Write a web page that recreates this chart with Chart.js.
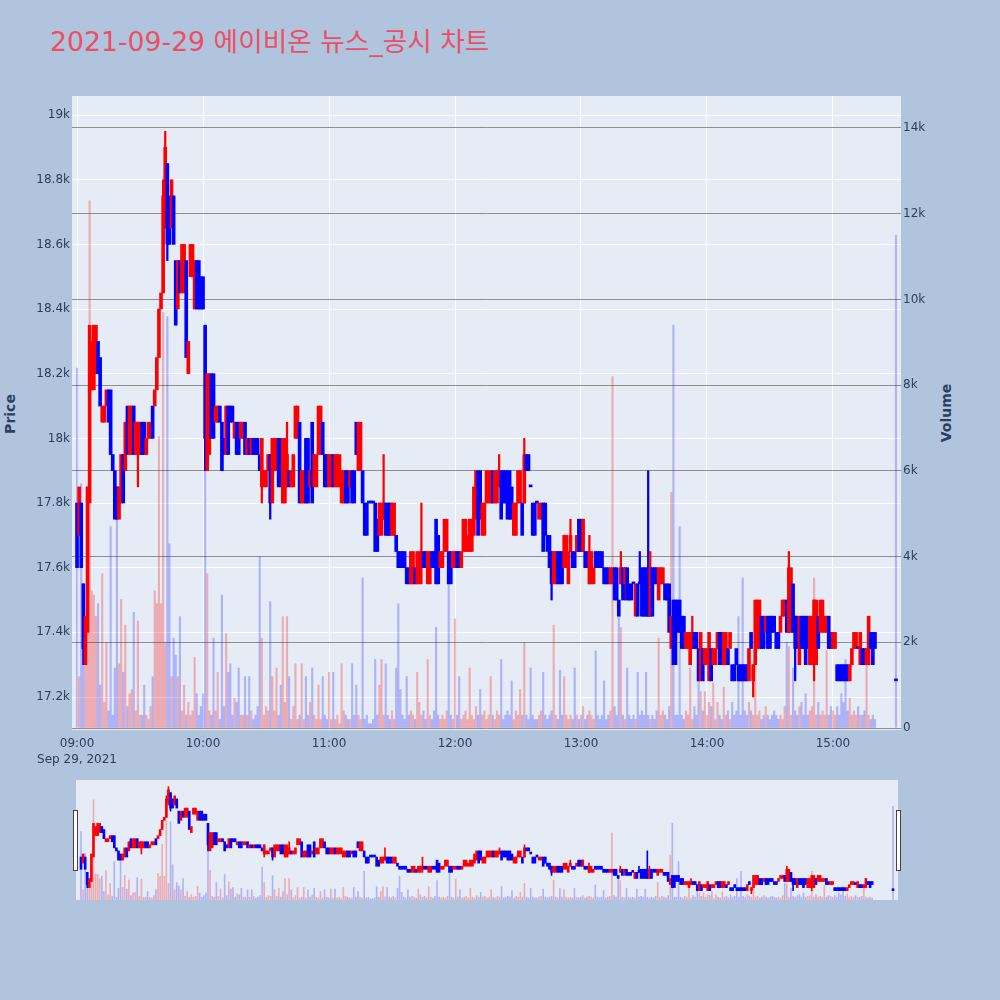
<!DOCTYPE html>
<html>
<head>
<meta charset="utf-8">
<script src="https://cdn.jsdelivr.net/npm/chart.js@4.4.0/dist/chart.umd.min.js"></script>
<style>
  body { margin: 0; width: 1000px; height: 1000px; background: #b0c4de; position: relative; overflow: hidden; font-family: "DejaVu Sans", "Noto Sans CJK KR", sans-serif; }
  #title { position: absolute; left: 50px; top: 28px; font-size: 26.7px; line-height: 27px; color: #ec4f64; white-space: nowrap; }
  .axis-title { position: absolute; font-size: 14px; font-weight: bold; color: #2a3f5f; transform: translate(-50%, -50%) rotate(-90deg); white-space: nowrap; }
  #main { position: absolute; left: 0; top: 0; width: 1000px; height: 775px; }
  #slider { position: absolute; left: 0; top: 775px; width: 1000px; height: 130px; }
  .handle { position: absolute; top: 810px; width: 3px; height: 59px; background: #fff; border: 1px solid #444; }
</style>
</head>
<body>
<div id="title">2021-09-29 에이비온 뉴스_공시 차트</div>
<div class="axis-title" style="left:10px; top:414px;">Price</div>
<div class="axis-title" style="left:946px; top:413px;">Volume</div>
<canvas id="main" width="1000" height="775"></canvas>
<canvas id="slider" width="1000" height="130"></canvas>
<div class="handle" style="left:73px;"></div>
<div class="handle" style="left:896px;"></div>
<script>
// one candle per minute, index = minutes after 09:00 (null = no trade)
const opens = [
  17800,17700,17800,17550,17300,17400,17800,18150,18150,18200, // 09:00
  18300,18250,18050,18050,18100,18150,18150,17950,17900,17850,
  17750,17800,17950,17900,18100,17950,17950,18100,17950,17950,
  17950,18050,18050,17950,18000,18000,18100,18100,18150,18250,
  18400,18450,18700,18850,18750,18650,18750,18550,18400,18550,
  18450,18450,18550,18200,18500,18500,18400,18550,18550,18500,
  18500,18350,17900,17950,18200,18200,18050,18050,18100,18050, // 10:00
  18000,17950,18100,18100,18100,18000,18050,18050,18000,18000,
  18050,17950,18000,17950,18000,18000,18000,17950,17850,17850,
  17850,17900,17950,17800,17900,17900,18000,18000,17800,17800,
  17850,17900,17850,17850,18000,18000,18050,17800,17800,18000,
  18000,17850,18050,17850,17850,17950,17950,18050,17950,17950,
  17850,17850,17950,17850,17850,17850,17800,17800,17900,17900, // 11:00
  17850,17900,17900,18050,17900,17900,17900,17800,17800,17800,
  17800,17800,17800,17750,17700,17700,17750,17800,17800,17800,
  17700,17700,17700,17650,17650,17650,17650,17600,17600,17550,
  17550,17600,17550,17550,17600,17650,17650,17550,17550,17650,
  17650,17750,17700,17600,17600,17650,17650,17650,17650,17600,
  17600,17650,17650,17600,17650,17650,17650,17650,17650,17700, // 12:00
  17750,17900,17900,17700,17700,17800,17800,17800,17900,17800,
  17800,17850,17900,17900,17900,17900,17900,17850,17700,17700,
  17800,17800,17800,17800,17950,17950,17850,17800,17800,17800,
  17750,17750,17800,17800,17700,17700,17650,17550,17550,17650,
  17650,17650,17600,17600,17550,17650,17650,17650,17650,17750,
  17750,17650,17650,17650,17550,17550,17550,17650,17650,17650, // 13:00
  17650,17600,17600,17600,17550,17550,17600,17600,17500,17550,
  17600,17550,17600,17550,17550,17550,17450,17550,17550,17600,
  17600,17600,17600,17450,17600,17600,17600,17500,17550,17550,
  17550,17550,17550,17350,17500,17500,17500,17500,17450,17450,
  17350,17350,17300,17350,17400,17400,17350,17250,17350,17300,
  17300,17250,17350,17300,17300,17350,17400,17400,17300,17300, // 14:00
  17350,17350,17300,17300,17350,17300,17300,17300,17300,17300,
  17250,17400,17250,17300,17350,17350,17450,17450,17400,17450,
  17450,17450,17450,17400,17400,17400,17450,17450,17500,17400,
  17400,17550,17450,17450,17300,17450,17450,17450,17450,17300,
  17300,17300,17300,17450,17400,17400,17400,17400,17450,17400,
  17350,17350,17300,17300,17300,17300,17300,17300,17250,17300, // 15:00
  17350,17350,17350,17300,17350,17350,17300,17300,17400,17400,
  17400,null,null,null,null,null,null,null,null,null,
  17250 // 15:30
];
const closes = [
  17600,17850,17600,17350,17450,17850,18350,18300,18350,18350, // 09:00
  18200,18100,18100,18100,18150,18050,17950,17900,17750,17750,
  17850,17950,17800,18050,17950,18100,18100,17950,18050,18050,
  18050,17950,17950,18000,18050,18050,18000,18150,18250,18400,
  18450,18750,18900,18600,18600,18800,18600,18350,18550,18450,
  18600,18600,18250,18300,18600,18600,18550,18400,18400,18400,
  18400,18000,18200,18200,18000,18000,18100,18100,18050,17900, // 10:00
  17950,18100,17950,18050,18050,18050,17950,17950,18050,18050,
  17950,18000,17950,18000,17950,17950,17950,17900,18000,17900,
  17900,17950,17800,18000,18000,18000,17850,17850,18000,18000,
  17950,17850,17900,17950,18100,18100,17800,17900,17900,17800,
  17800,17900,17800,17950,17950,18100,18100,17950,17850,17850,
  17950,17950,17850,17950,17950,17950,17900,17900,17800,17800, // 11:00
  17900,17800,17800,17950,18050,18050,17800,17700,17700,17800,
  17800,17800,17650,17650,17800,17800,17800,17700,17700,17700,
  17800,17800,17650,17600,17600,17600,17600,17550,17550,17650,
  17650,17550,17650,17650,17650,17600,17600,17650,17650,17600,
  17600,17550,17550,17650,17650,17750,17750,17550,17550,17650,
  17650,17600,17600,17650,17750,17750,17700,17750,17750,17850, // 12:00
  17900,17700,17750,17800,17800,17900,17900,17900,17800,17900,
  17900,17900,17750,17800,17800,17750,17750,17750,17800,17800,
  17900,17900,17700,17950,17900,17900,17850,17700,17700,17800,
  17800,17800,17650,17700,17650,17600,17550,17650,17650,17550,
  17550,17550,17700,17700,17650,17700,17600,17600,17700,17650,
  17650,17750,17600,17600,17650,17650,17600,17600,17600,17600, // 13:00
  17600,17550,17550,17550,17600,17600,17500,17500,17450,17600,
  17500,17600,17500,17500,17500,17550,17550,17450,17550,17450,
  17450,17450,17450,17600,17450,17550,17550,17600,17600,17600,
  17500,17500,17400,17450,17300,17300,17400,17400,17350,17350,
  17400,17400,17400,17400,17350,17350,17250,17400,17250,17350,
  17350,17400,17250,17350,17350,17400,17300,17300,17400,17400, // 14:00
  17300,17400,17250,17250,17300,17250,17250,17250,17250,17250,
  17350,17350,17300,17500,17500,17500,17350,17350,17450,17350,
  17350,17400,17400,17350,17350,17450,17500,17500,17400,17600,
  17600,17400,17350,17350,17450,17350,17350,17300,17350,17450,
  17450,17500,17500,17350,17500,17500,17450,17450,17350,17350,
  17400,17400,17250,17250,17250,17250,17250,17250,17300,17350, // 15:00
  17400,17400,17350,17400,17300,17300,17350,17450,17350,17300,
  17350,null,null,null,null,null,null,null,null,null,
  17250 // 15:30
];
const volumes = [
  8400,1200,5700,2000,1900,3500,12300,3200,3100,2600, // 09:00
  2900,1000,3600,600,2000,400,4700,300,1400,4900,
  1500,3000,1300,2400,500,800,900,2700,400,2500,
  300,300,1000,300,200,500,1200,3200,2900,6800,
  2900,9700,2000,9600,4300,1200,2100,1700,1200,2600,
  400,1000,300,600,300,400,1650,800,300,500,
  800,7000,3600,400,300,2100,400,1300,200,3100, // 10:00
  500,2200,1300,1500,300,700,600,1400,300,300,
  1200,300,1200,400,200,300,500,4000,2100,300,
  500,400,2950,1200,400,1400,300,1000,2600,600,
  2600,1200,200,500,1500,200,300,1500,200,1200,
  300,600,1400,300,200,1000,200,1200,300,200,
  1300,200,1300,200,300,100,1500,400,300,200, // 11:00
  200,1500,300,1000,300,200,3500,200,300,100,
  100,200,1600,300,1000,1600,300,1500,300,200,
  400,200,1400,2900,900,300,200,1200,300,400,
  300,200,1300,600,300,400,200,1600,300,200,
  400,2350,300,200,300,200,400,3700,300,200,
  2550,300,1200,200,300,400,200,1400,300,200, // 12:00
  500,300,900,300,400,200,300,1200,300,200,
  400,300,1600,200,300,400,300,1100,200,400,
  300,900,300,2000,300,200,1400,300,200,200,
  300,400,1300,300,200,300,400,2400,300,200,
  1350,300,1200,300,200,300,200,1400,300,200,
  300,500,200,300,400,300,200,1800,300,200, // 13:00
  300,1100,200,300,400,8200,500,300,2700,2350,
  300,200,1400,300,200,300,200,1300,300,400,
  300,1300,300,200,300,200,400,2100,300,400,
  300,200,500,5500,9400,300,300,4700,300,200,
  400,300,1400,200,500,300,1100,850,400,850,
  300,600,500,1050,200,600,300,200,950,300, // 14:00
  400,200,600,300,400,2600,300,3500,400,300,
  600,400,300,2900,300,400,200,300,500,300,
  200,300,400,300,200,300,200,500,2000,1900,
  300,1400,400,300,500,600,300,800,300,400,
  500,3500,300,600,300,400,300,1800,300,500,
  400,300,500,300,800,600,1600,400,700,300, // 15:00
  400,300,500,300,300,400,1600,300,200,300,
  200,null,null,null,null,null,null,null,null,null,
  11500 // 15:30
];
// shadows that reach past the body: [minute, low, high]
const wicks = [
  [3,17300,17550],[29,17850,18050],[41,18450,18800],[42,18650,18950],[43,18550,18850],
  [61,17900,18350],[88,17800,18000],[92,17750,17950],[100,17850,18050],[146,17750,17950],
  [164,17550,17800],[201,17850,17950],[213,17800,18000],[226,17500,17650],[235,17650,17750],
  [241,17650,17750],[244,17550,17700],[259,17550,17650],[261,17500,17600],[268,17550,17650],
  [272,17450,17900],[273,17450,17650],[293,17350,17450],[322,17200,17300],[339,17400,17650],
  [342,17250,17450],[351,17250,17500]
];
const priceTicks = [17200,17400,17600,17800,18000,18200,18400,18600,18800,19000];
const volumeTicks = [0,2000,4000,6000,8000,10000,12000,14000];
const hourTicks = [0,60,120,180,240,300,360];
const hourLabels = ['09:00','10:00','11:00','12:00','13:00','14:00','15:00'];
const dateLabel = 'Sep 29, 2021';

const UP = '#ff0000', DOWN = '#0000ff';
const FONT = 'DejaVu Sans';
const TICK = '#2a3f5f';

const minutes = opens.map((o, i) => (o === null ? -1 : i)).filter(i => i >= 0);
const isUp = i => closes[i] > opens[i];

// plot background behind the grid
const plotBg = {
  id: 'plotBg',
  beforeDraw(chart, args, opts) {
    const a = chart.chartArea, ctx = chart.ctx;
    ctx.save();
    ctx.fillStyle = opts.color;
    ctx.fillRect(a.left, a.top, a.right - a.left, a.bottom - a.top);
    ctx.restore();
  }
};

function makeDatasets(bodyW, wickW, volW) {
  return [
    {
      data: minutes.map(i => ({ x: i, y: [opens[i], closes[i]] })),
      backgroundColor: minutes.map(i => (isUp(i) ? UP : DOWN)),
      barThickness: bodyW, minBarLength: 2, grouped: false, yAxisID: 'y', order: 1
    },
    {
      data: wicks.map(w => ({ x: w[0], y: [w[1], w[2]] })),
      backgroundColor: wicks.map(w => (isUp(w[0]) ? UP : DOWN)),
      barThickness: wickW, grouped: false, yAxisID: 'y', order: 2
    },
    {
      data: minutes.map(i => ({ x: i, y: volumes[i] })),
      backgroundColor: minutes.map(i => (isUp(i) ? 'rgba(255,0,0,0.27)' : 'rgba(0,0,255,0.24)')),
      barThickness: volW, grouped: false, yAxisID: 'vol', order: 3
    }
  ];
}

const xMin = -2.4, xMax = 392.4;
const priceMin = 17098, priceMax = 19059;
const volMin = -46, volMax = 14746;

new Chart(document.getElementById('main'), {
  type: 'bar',
  data: { datasets: makeDatasets(3, 1.6, 1.5) },
  options: {
    responsive: false,
    animation: false,
    layout: { padding: { top: 96 } },
    plugins: { legend: { display: false }, tooltip: { enabled: false }, plotBg: { color: '#e5ecf6' } },
    scales: {
      x: {
        type: 'linear', min: xMin, max: xMax, offset: false,
        grid: { color: '#ffffff', offset: false, drawTicks: false },
        border: { display: false },
        afterBuildTicks: s => { s.ticks = hourTicks.map(v => ({ value: v })); },
        afterFit: s => { s.height = 45; },
        ticks: {
          color: TICK, font: { family: FONT, size: 12, lineHeight: 1.35 }, padding: 6,
          maxRotation: 0, autoSkip: false,
          callback: v => {
            const k = hourTicks.indexOf(v);
            return k === 0 ? [hourLabels[0], dateLabel] : hourLabels[k];
          }
        }
      },
      y: {
        position: 'left', min: priceMin, max: priceMax,
        grid: { color: '#ffffff', drawTicks: false },
        border: { display: false },
        afterBuildTicks: s => { s.ticks = priceTicks.map(v => ({ value: v })); },
        afterFit: s => { s.width = 72; },
        ticks: { color: TICK, font: { family: FONT, size: 12 }, padding: 2, callback: v => v / 1000 + 'k' }
      },
      vol: {
        position: 'right', min: volMin, max: volMax,
        grid: { color: '#8e8e8e', drawTicks: false },
        border: { display: false },
        afterBuildTicks: s => { s.ticks = volumeTicks.map(v => ({ value: v })); },
        afterFit: s => { s.width = 99; },
        ticks: { color: TICK, font: { family: FONT, size: 12 }, padding: 2, callback: v => (v === 0 ? '0' : v / 1000 + 'k') }
      }
    }
  },
  plugins: [plotBg]
});

// range slider: same data, small
new Chart(document.getElementById('slider'), {
  type: 'bar',
  data: { datasets: makeDatasets(2, 1, 1) },
  options: {
    responsive: false,
    animation: false,
    layout: { padding: { left: 76, right: 102, top: 5, bottom: 5 } },
    plugins: { legend: { display: false }, tooltip: { enabled: false }, plotBg: { color: '#e5ecf6' } },
    scales: {
      x: { type: 'linear', min: xMin, max: xMax, offset: false, display: false },
      y: { min: priceMin, max: priceMax, display: false },
      vol: { position: 'right', min: volMin, max: volMax, display: false }
    }
  },
  plugins: [plotBg]
});
</script>
</body>
</html>
